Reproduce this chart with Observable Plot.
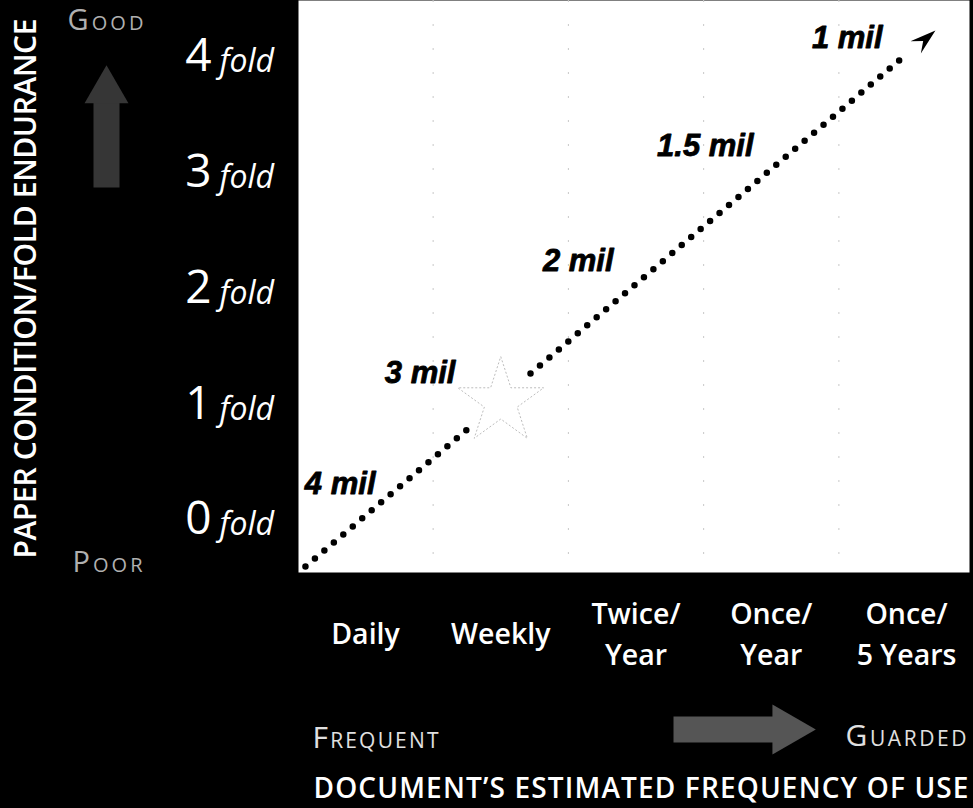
<!DOCTYPE html>
<html>
<head>
<meta charset="utf-8">
<script src="https://cdn.jsdelivr.net/npm/d3@7"></script>
<script src="https://cdn.jsdelivr.net/npm/@observablehq/plot@0.6"></script>
<style>
  html, body { margin: 0; padding: 0; background: #000; }
  #chart { width: 973px; height: 808px; }
</style>
</head>
<body>
<div id="chart"></div>
<script>
// ---- data ----
const categories = ["Daily", "Weekly", "Twice/\nYear", "Once/\nYear", "Once/\n5 Years"];
const categoryIndex = [0, 1, 2, 3, 4];
const foldTicks = [0, 1, 2, 3, 4];
const foldUnit = "fold";
const gridX = [0.5, 1.5, 2.5, 3.5];

// dotted trend line (frequency index vs. fold endurance), broken at the star
const lineX = [-0.444, 0.813, 1.22, 4.007];
const lineY = [-0.423, 0.821, 1.244, 4.009];
const lineSegment = ["a", "a", "b", "b"];
const arrowTipX = [4.214];
const arrowTipY = [4.207];

// paper thickness labels
const milLabels = ["4 mil", "3 mil", "2 mil", "1.5 mil", "1 mil"];
const milX = [0.074, 0.665, 1.834, 2.869, 3.823];
const milY = [0.285, 1.244, 2.212, 3.205, 4.138];

// star marker
const starX = [1];
const starY = [1];

const yTitle = "PAPER CONDITION/FOLD ENDURANCE";
const xTitle = "DOCUMENT\u2019S ESTIMATED FREQUENCY OF USE";
const goodLabel = "Good", poorLabel = "Poor";
const frequentLabel = "Frequent", guardedLabel = "Guarded";

// ---- build tables ----
const lineData = lineX.map((x, i) => ({x, y: lineY[i], s: lineSegment[i]}));
const tipData = arrowTipX.map((x, i) => ({x, y: arrowTipY[i]}));
const milData = milLabels.map((t, i) => ({t, x: milX[i], y: milY[i]}));
const starData = starX.map((x, i) => ({x, y: starY[i]}));

// dart-shaped arrow head for the end of the dotted line
const dart = {
  draw(context, l) {
    context.moveTo(0, -l);
    context.lineTo(-8, 0);
    context.lineTo(0, -l * 0.38);
    context.lineTo(8, 0);
    context.closePath();
  }
};

const sans = "'Open Sans', 'Noto Sans', sans-serif";

const svg = Plot.plot({
  width: 973,
  height: 808,
  marginLeft: 298,
  marginRight: 4,
  marginTop: 0,
  marginBottom: 236,
  style: {background: "#000", overflow: "visible", fontFamily: sans},
  x: {domain: [-0.4954, 4.4658], axis: null},
  y: {domain: [-0.4752, 4.4665], axis: null},
  marks: [
    // white plotting area
    Plot.frame({fill: "#fff"}),
    // faint category separators
    Plot.ruleX(gridX, {stroke: "#c8c8c8", strokeWidth: 1, strokeDasharray: "2,22"}),
    // dotted line
    Plot.line(lineData, {x: "x", y: "y", z: "s", stroke: "#000", strokeWidth: 6.5,
      strokeDasharray: "0,12.4", strokeLinecap: "round"}),
    // arrow head at end of line
    Plot.vector(tipData, {x: "x", y: "y", length: 26, rotate: 49.6, anchor: "end",
      shape: dart, fill: "#000", stroke: "none"}),
    // star
    Plot.dot(starData, {x: "x", y: "y", symbol: "star", r: 27, fill: "#fff",
      stroke: "#bdbdbd", strokeWidth: 1, strokeDasharray: "2,2"}),
    // thickness labels
    Plot.text(milData, {x: "x", y: "y", text: "t", textAnchor: "end", lineAnchor: "middle",
      fontSize: 31, fontWeight: "bold", fontStyle: "italic",
      fontFamily: "'Liberation Sans', Arial, sans-serif", fill: "#000", stroke: "#000", strokeWidth: 0.8}),
    // y tick labels: digit + "fold"
    Plot.text(foldTicks, {y: d => d, frameAnchor: "left", text: d => String(d), textAnchor: "end",
      lineAnchor: "bottom", dx: -87, dy: 17, fontSize: 46, fill: "#fff"}),
    Plot.text(foldTicks, {y: d => d, frameAnchor: "left", text: () => foldUnit, textAnchor: "start",
      lineAnchor: "bottom", dx: -79, dy: 18, fontSize: 32, fontStyle: "italic", fill: "#fff"}),
    // x category labels
    Plot.text(categoryIndex, {x: d => d, frameAnchor: "bottom", text: i => categories[i],
      lineAnchor: "middle", lineHeight: 1.45, dy: 58.5, fontSize: 28.5, fontWeight: 600, fill: "#fff"}),
    // y title
    Plot.text([yTitle], {frameAnchor: "left", text: d => d, rotate: -90, dx: -272, dy: 2,
      textAnchor: "middle", lineAnchor: "middle", fontSize: 30, fontWeight: 600, fill: "#fff"}),
    // Good / Poor with up arrow
    Plot.frame({fill: "#363636", insetLeft: -205, insetRight: 850, insetTop: 100, insetBottom: 385}),
    Plot.dot([0], {frameAnchor: "top-left", dx: -192, dy: 90, symbol: "triangle", r: 16.3,
      fill: "#363636", stroke: "none"}),
    Plot.text([goodLabel], {frameAnchor: "top-left", text: d => d, dx: -193, dy: 20,
      textAnchor: "middle", lineAnchor: "middle", fontSize: 29, fontVariant: "small-caps", fill: "#b0b0b0"}),
    Plot.text([poorLabel], {frameAnchor: "bottom-left", text: d => d, dx: -191, dy: -10,
      textAnchor: "middle", lineAnchor: "middle", fontSize: 29, fontVariant: "small-caps", fill: "#b0b0b0"}),
    // Frequent -> Guarded
    Plot.frame({fill: "#555", insetLeft: 375, insetRight: 193, insetTop: 716, insetBottom: -170}),
    Plot.dot([0], {frameAnchor: "bottom-left", dx: 488.4, dy: 157, symbol: "triangle", r: 18.6,
      rotate: 90, fill: "#555", stroke: "none"}),
    Plot.text([frequentLabel], {frameAnchor: "bottom-left", text: d => d, dx: 14, dy: 166,
      textAnchor: "start", lineAnchor: "middle", fontSize: 30, fontVariant: "small-caps", fill: "#e0e0e0"}),
    Plot.text([guardedLabel], {frameAnchor: "bottom-right", text: d => d, dx: -3, dy: 164,
      textAnchor: "end", lineAnchor: "middle", fontSize: 30, fontVariant: "small-caps", fill: "#e0e0e0"}),
    // x title
    Plot.text([xTitle], {frameAnchor: "bottom-left", text: d => d, dx: 15, dy: 217,
      textAnchor: "start", lineAnchor: "middle", fontSize: 28, fontWeight: 600, fill: "#fff"})
  ]
});

// fit the wide-spaced annotation texts to the widths measured on the reference
const fits = new Map([
  [yTitle, 540], [xTitle, 655], [goodLabel, 76], [poorLabel, 70],
  [frequentLabel, 126], [guardedLabel, 121]
]);
d3.select(svg).selectAll("text").each(function() {
  const len = fits.get(this.textContent);
  if (len) d3.select(this).attr("textLength", len).attr("lengthAdjust", "spacing");
});

document.getElementById("chart").appendChild(svg);
</script>
</body>
</html>
